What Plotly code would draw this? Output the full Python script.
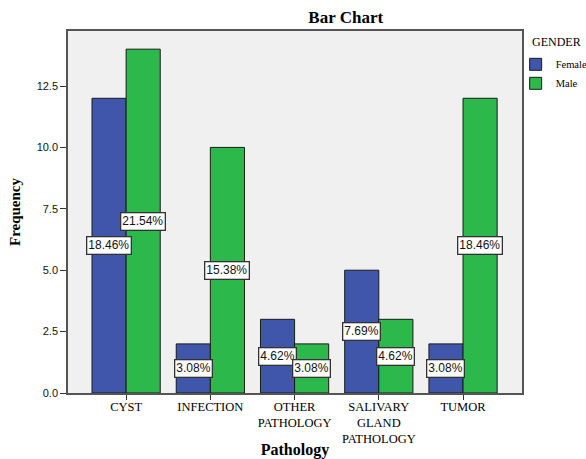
import plotly.graph_objects as go

categories = ["CYST", "INFECTION", "OTHER<br>PATHOLOGY", "SALIVARY<br>GLAND<br>PATHOLOGY", "TUMOR"]
female = [12, 2, 3, 5, 2]
male = [14, 10, 2, 3, 12]
y_ticks = [0, 2.5, 5, 7.5, 10, 12.5]
y_tick_text = ["0.0", "2.5", "5.0", "7.5", "10.0", "12.5"]

total = sum(female) + sum(male)
serif = "Liberation Serif, DejaVu Serif, serif"
sans = "Liberation Sans, Arial, sans-serif"

fig = go.Figure()
fig.add_trace(go.Bar(name="Female", x=categories, y=female,
                     marker=dict(color="#3F56AB", line=dict(color="#1a1a1a", width=1))))
fig.add_trace(go.Bar(name="Male", x=categories, y=male,
                     marker=dict(color="#2DB84B", line=dict(color="#1a1a1a", width=1))))

bargap = 0.19
half = (1 - bargap) / 4
for i, (f, m) in enumerate(zip(female, male)):
    for val, dx in ((f, -half), (m, half)):
        fig.add_annotation(x=i + dx, y=val / 2, xref="x", yref="y",
                           text=f"{val / total * 100:.2f}%", showarrow=False,
                           font=dict(family=sans, size=12, color="#111111"),
                           bgcolor="white", bordercolor="#333333", borderwidth=1.3,
                           borderpad=1)

# legend heading placed as its own label so the entries can sit close to the frame
fig.add_annotation(text="GENDER", xref="paper", yref="paper", x=1.018, y=0.970,
                   xanchor="left", yanchor="middle", showarrow=False,
                   font=dict(family=serif, size=12, color="black"))

fig.update_layout(
    width=586, height=459,
    margin=dict(l=68, r=64, t=31, b=66, autoexpand=False),
    paper_bgcolor="white", plot_bgcolor="#F0F0F0",
    barmode="group", bargap=bargap, bargroupgap=0,
    title=dict(text="<b>Bar Chart</b>", x=0.59, xanchor="center", y=0.962, yanchor="middle",
               font=dict(family=serif, size=17, color="black")),
    legend=dict(x=0.986, xanchor="left", y=0.948, yanchor="top",
                font=dict(family=serif, size=10.5, color="black"),
                tracegroupgap=0, itemwidth=30, bgcolor="rgba(0,0,0,0)"),
    font=dict(family=serif, color="black"),
    showlegend=True,
)
fig.update_xaxes(
    type="category", range=[-0.69, 4.7], automargin=False,
    title=dict(text="<b>Pathology</b>", font=dict(family=serif, size=16), standoff=6),
    tickfont=dict(family=serif, size=12.5, color="black"), ticklabelstandoff=-4,
    ticks="outside", ticklen=5, tickcolor="#333333", tickwidth=1,
    showline=True, linecolor="#555555", linewidth=1.5, mirror=True,
    showgrid=False,
)
fig.update_yaxes(
    range=[0, 14.74], tickvals=y_ticks, ticktext=y_tick_text, automargin=False,
    title=dict(text="<b>Frequency</b>", font=dict(family=serif, size=15), standoff=12),
    tickfont=dict(family=sans, size=11, color="#111111"),
    ticks="outside", ticklen=6, tickcolor="#333333", tickwidth=1,
    showline=True, linecolor="#555555", linewidth=1.5, mirror=True,
    showgrid=False, zeroline=False,
)

fig.write_html("out.html")
